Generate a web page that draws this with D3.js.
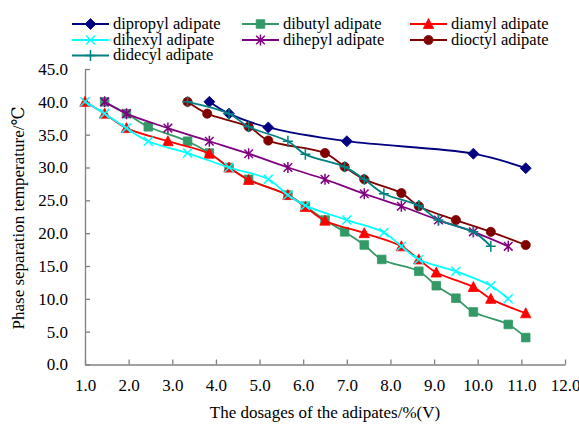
<!DOCTYPE html>
<html>
<head>
<meta charset="utf-8">
<script src="https://cdn.jsdelivr.net/npm/d3@7"></script>
<style>
    body { margin: 0; background: #fff; }
    svg text { font-family: "Liberation Serif", "DejaVu Serif", serif; fill: #000; }
</style>
</head>
<body>
<div id="chart"></div>
<script>
// values: [dosage %(V), temperature ℃]
const dipropyl = [[3.85, 40], [4.3, 38.2], [5.2, 36.1], [7.0, 34], [9.9, 32.1], [11.1, 29.9]];
const dibutyl = [[1.45, 40], [1.95, 38.2], [2.45, 36.2], [3.35, 34], [3.85, 32.2], [4.3, 30], [4.75, 28.2],
    [5.65, 25.8], [6.05, 24.1], [6.5, 22], [6.95, 20.2], [7.4, 18.2], [7.8, 16], [8.65, 14.2],
    [9.05, 12], [9.5, 10.1], [9.9, 8], [10.7, 6.1], [11.1, 4.1]];
const diamyl = [[1.0, 40], [1.45, 38.2], [1.95, 36], [2.9, 34], [3.85, 32.1], [4.3, 30], [4.75, 28.1],
    [5.65, 25.8], [6.05, 24], [6.5, 21.9], [7.4, 20], [8.25, 18], [8.65, 16], [9.05, 14],
    [9.9, 11.8], [10.3, 10], [11.1, 7.8]];
const dihexyl = [[1.0, 40], [1.45, 38.2], [1.95, 36], [2.45, 34], [3.35, 32.2], [4.3, 30], [5.2, 28.2],
    [5.65, 25.8], [6.05, 24.2], [7.0, 22], [7.85, 20.1], [8.25, 18], [8.65, 16], [9.5, 14.2],
    [10.3, 12], [10.7, 10]];
const dihepyl = [[1.45, 40], [1.95, 38.2], [2.9, 36], [3.85, 34], [4.75, 32.1], [5.65, 30], [6.5, 28.2],
    [7.4, 26], [8.25, 24.1], [9.1, 22], [9.9, 20.2], [10.7, 18]];
const dioctyl = [[3.35, 40], [3.8, 38.2], [4.75, 36.2], [5.2, 34.1], [6.5, 32.2], [6.95, 30.1], [7.4, 28.2],
    [8.25, 26.1], [8.65, 24.1], [9.5, 22], [10.3, 20.2], [11.1, 18.2]];
const didecyl = [[3.35, 40], [4.3, 38.2], [4.75, 36.2], [5.65, 34], [6.05, 32], [6.95, 30.1], [7.4, 28.2],
    [7.85, 26], [8.65, 24.2], [9.1, 22], [9.9, 20.2], [10.3, 18]];

const seriesNames = ["dipropyl adipate", "dibutyl adipate", "diamyl adipate", "dihexyl adipate",
    "dihepyl adipate", "dioctyl adipate", "didecyl adipate"];
const xTicks = [1, 2, 3, 4, 5, 6, 7, 8, 9, 10, 11, 12];
const yTicks = [0, 5, 10, 15, 20, 25, 30, 35, 40, 45];

const seriesData = [dipropyl, dibutyl, diamyl, dihexyl, dihepyl, dioctyl, didecyl];
const colors = ["#000080", "#339966", "#FF0000", "#00FFFF", "#800080", "#800000", "#008080"];
const markers = ["diamond", "square", "triangle", "x", "asterisk", "circle", "plus"];

const serif = '"Liberation Serif", "DejaVu Serif", serif';
const width = 579, height = 424;
const svg = d3.select('#chart').append('svg')
    .attr('width', width)
    .attr('height', height);

const x = d3.scaleLinear().domain([1, 12]).range([85, 565]);
const y = d3.scaleLinear().domain([0, 45]).range([364.5, 69]);

// marker shapes, centred on 0,0
function markerPath(type) {
    switch (type) {
        case "diamond": return "M0,-5.5L5.5,0L0,5.5L-5.5,0Z";
        case "square": return "M-4.3,-4.3H4.3V4.3H-4.3Z";
        case "triangle": return "M0,-5.5L5.2,4.5H-5.2Z";
        case "circle": return d3.symbol().type(d3.symbolCircle).size(66)();
        case "x": return "M-4.5,-4.5L4.5,4.5M-4.5,4.5L4.5,-4.5";
        case "asterisk": return "M-4.3,-4.3L4.3,4.3M-4.3,4.3L4.3,-4.3M0,-5.5V5.5";
        case "plus": return "M-5,0H5M0,-5.5V5.5";
    }
}
function isStroked(type) {
    return type === "x" || type === "asterisk" || type === "plus";
}

// axes
const xAxis = d3.axisBottom(x).tickValues(xTicks).tickFormat(d3.format(".1f"))
    .tickSizeInner(-5).tickSizeOuter(0).tickPadding(14);
const yAxis = d3.axisLeft(y).tickValues(yTicks).tickFormat(d3.format(".1f"))
    .tickSizeInner(-5).tickSizeOuter(0).tickPadding(17);

const gx = svg.append('g').attr('transform', 'translate(0,' + y(0) + ')').call(xAxis);
const gy = svg.append('g').attr('transform', 'translate(' + x(1) + ',0)').call(yAxis);
[gx, gy].forEach(function (g) {
    g.attr('font-family', null).attr('font-size', null);
    g.selectAll('path, line').attr('stroke', '#808080').attr('stroke-width', 1.3);
    g.selectAll('text').style('font-size', '17px').style('font-family', serif);
});

// series lines (smoothed like the original)
const line = d3.line()
    .x(d => x(d[0]))
    .y(d => y(d[1]))
    .curve(d3.curveCatmullRom.alpha(0.5));

const plot = svg.append('g');
seriesData.forEach(function (data, i) {
    plot.append('path')
        .datum(data)
        .attr('d', line)
        .attr('fill', 'none')
        .attr('stroke', colors[i])
        .attr('stroke-width', 1.8);

    plot.selectAll('.m' + i)
        .data(data)
        .join('path')
        .attr('class', 'm' + i)
        .attr('d', markerPath(markers[i]))
        .attr('transform', d => 'translate(' + x(d[0]) + ',' + y(d[1]) + ')')
        .attr('fill', isStroked(markers[i]) ? 'none' : colors[i])
        .attr('stroke', colors[i])
        .attr('stroke-width', isStroked(markers[i]) ? 1.5 : 0.8);
});

// legend, three columns
const legendCols = [72, 242, 410];
const legendRows = [24, 40, 55.5];
const legend = svg.append('g');
seriesNames.forEach(function (name, i) {
    const lx = legendCols[i % 3], ly = legendRows[Math.floor(i / 3)];
    const item = legend.append('g').attr('transform', 'translate(' + lx + ',' + ly + ')');
    item.append('line')
        .attr('x1', 0).attr('x2', 37)
        .attr('y1', 0).attr('y2', 0)
        .attr('stroke', colors[i])
        .attr('stroke-width', 2);
    item.append('path')
        .attr('d', markerPath(markers[i]))
        .attr('transform', 'translate(18.5,0)')
        .attr('fill', isStroked(markers[i]) ? 'none' : colors[i])
        .attr('stroke', colors[i])
        .attr('stroke-width', isStroked(markers[i]) ? 1.5 : 0.8);
    item.append('text')
        .attr('x', 41)
        .attr('dy', '0.3em')
        .style('font-family', serif)
        .style('font-size', '16.5px')
        .text(name);
});

// axis titles
svg.append('text')
    .attr('x', (x(1) + x(12)) / 2)
    .attr('y', 418)
    .attr('text-anchor', 'middle')
    .style('font-family', serif)
    .style('font-size', '17px')
    .text('The dosages of the adipates/%(V)');

svg.append('text')
    .attr('transform', 'translate(24,' + 218 + ') rotate(-90)')
    .attr('text-anchor', 'middle')
    .style('font-family', serif)
    .style('font-size', '17px')
    .text('Phase separation temperature/℃');
</script>
</body>
</html>
